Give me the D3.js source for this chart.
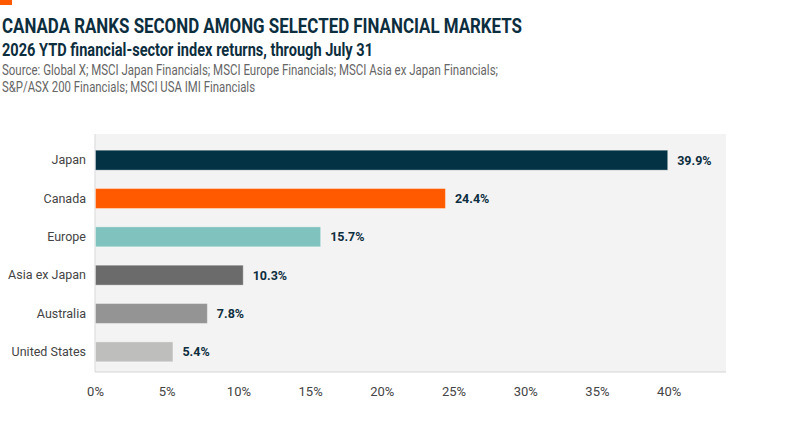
<!DOCTYPE html>
<html>
<head>
<meta charset="utf-8">
<script src="https://cdn.jsdelivr.net/npm/d3@7"></script>
<style>
  body { margin: 0; background: #fff; }
  svg { display: block; font-family: "Roboto", "Liberation Sans", sans-serif; }
</style>
</head>
<body>
<svg id="chart" width="800" height="430"></svg>
<script>
// data
const regions = ["Japan", "Canada", "Europe", "Asia ex Japan", "Australia", "United States"]
const returns = [39.9, 24.4, 15.7, 10.3, 7.8, 5.4]
const barColors = ["#023244", "#ff5a00", "#7fc2be", "#6b6b6b", "#949494", "#bebfbd"]
const xTicks = [0, 5, 10, 15, 20, 25, 30, 35, 40]

const svg = d3.select("#chart")

var plot = {left: 95, right: 726, top: 134, bottom: 372}

// little orange tab in the corner
svg.append("rect").attr("x", 0).attr("y", 0).attr("width", 12).attr("height", 5).attr("fill", "#ff5a00")

svg.append("text")
  .attr("x", 2).attr("y", 33)
  .attr("fill", "#0d2e3e").attr("font-size", "20px").attr("font-weight", 700)
  .attr("textLength", 520).attr("lengthAdjust", "spacingAndGlyphs")
  .text("CANADA RANKS SECOND AMONG SELECTED FINANCIAL MARKETS")

svg.append("text")
  .attr("x", 2).attr("y", 56)
  .attr("fill", "#0d2e3e").attr("font-size", "17.5px").attr("font-weight", 700)
  .attr("textLength", 371).attr("lengthAdjust", "spacingAndGlyphs")
  .text("2026 YTD financial-sector index returns, through July 31")

const source = [
  "Source: Global X; MSCI Japan Financials; MSCI Europe Financials; MSCI Asia ex Japan Financials;",
  "S&P/ASX 200 Financials; MSCI USA IMI Financials"
]
const sourceWidths = [496, 253]
source.forEach((s, i) => {
  svg.append("text")
    .attr("x", 2).attr("y", 75 + i * 17)
    .attr("fill", "#666").attr("font-size", "14px")
    .attr("textLength", sourceWidths[i]).attr("lengthAdjust", "spacingAndGlyphs")
    .text(s)
})

var x = d3.scaleLinear()
  .domain([0, 44])
  .range([plot.left, plot.right])

var y = d3.scaleBand()
  .domain(regions)
  .range([141, 371])
  .paddingInner(0.48)
  .paddingOuter(0.24)

// grey plot background
svg.append("rect")
  .attr("x", plot.left).attr("y", plot.top)
  .attr("width", plot.right - plot.left).attr("height", plot.bottom - plot.top)
  .attr("fill", "#f3f3f3")

svg.append("line")
  .attr("x1", plot.left).attr("x2", plot.left)
  .attr("y1", plot.top).attr("y2", plot.bottom)
  .attr("stroke", "#d9d9d9")

svg.append("line")
  .attr("x1", plot.left).attr("x2", plot.right)
  .attr("y1", plot.bottom).attr("y2", plot.bottom)
  .attr("stroke", "#d4d4d4")

const rows = regions.map((r, i) => ({region: r, value: returns[i], color: barColors[i]}))

svg.append("g").selectAll("rect")
  .data(rows)
  .join("rect")
    .attr("x", x(0) + 0.5)
    .attr("y", d => y(d.region))
    .attr("width", d => x(d.value) - x(0))
    .attr("height", y.bandwidth())
    .attr("fill", d => d.color)
    .attr("stroke", "#ffffff").attr("stroke-opacity", 0.35).attr("stroke-width", 1)

svg.append("g").selectAll("text")
  .data(rows)
  .join("text")
    .attr("x", d => x(d.value) + 10)
    .attr("y", d => y(d.region) + y.bandwidth() / 2)
    .attr("dy", "0.35em")
    .attr("fill", "#0d2e3e").attr("font-size", "12.5px").attr("font-weight", 700)
    .text(d => d.value.toFixed(1) + "%")

var yAxis = d3.axisLeft(y).tickSize(0).tickPadding(9)
svg.append("g")
  .attr("transform", "translate(" + plot.left + ",0)")
  .call(yAxis)
  .call(g => g.select(".domain").remove())
  .selectAll("text")
    .attr("fill", "#444").attr("font-size", "12.5px")
    .attr("font-family", "Roboto, sans-serif")

var xAxis = d3.axisBottom(x).tickValues(xTicks).tickSize(0).tickPadding(15)
  .tickFormat(d => d + "%")
svg.append("g")
  .attr("transform", "translate(0," + plot.bottom + ")")
  .call(xAxis)
  .call(g => g.select(".domain").remove())
  .selectAll("text")
    .attr("fill", "#444").attr("font-size", "13px")
    .attr("font-family", "Roboto, sans-serif")
</script>
</body>
</html>
